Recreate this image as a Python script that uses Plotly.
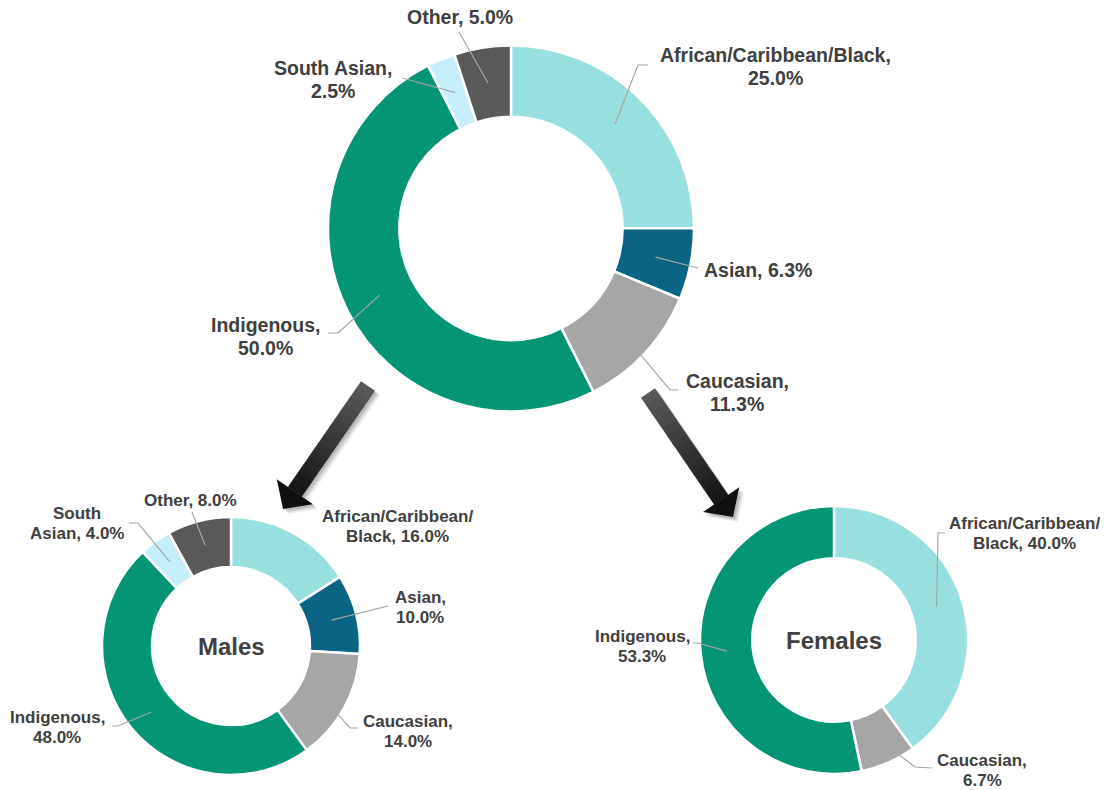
import math
import plotly.graph_objects as go

W, H = 1113, 790

# ---------------- data ----------------
groups = ["African/Caribbean/Black", "Asian", "Caucasian", "Indigenous", "South Asian", "Other"]
all_values = [25.0, 6.3, 11.3, 50.0, 2.5, 5.0]
male_values = [16.0, 10.0, 14.0, 48.0, 4.0, 8.0]
female_groups = ["African/Caribbean/Black", "Caucasian", "Indigenous"]
female_values = [40.0, 6.7, 53.3]
center_titles = ["", "Males", "Females"]

# ---------------- styles ----------------
colors = {
    "African/Caribbean/Black": "#97E0DF",
    "Asian": "#0A6584",
    "Caucasian": "#A6A6A6",
    "Indigenous": "#039574",
    "South Asian": "#C6EEFA",
    "Other": "#595959",
}
TEXT = "#404040"
LEADER = "#A6A6A6"
FONT = "Liberation Sans, Arial, sans-serif"

# pie geometry (pixel centre, radius, hole)
charts = [
    dict(name="all", labels=groups, values=all_values, cx=511, cy=228.5, r=183, hole=0.61,
         fsize=19.5, lh=22.5),
    dict(name="male", labels=groups, values=male_values, cx=231, cy=646, r=129, hole=0.612,
         fsize=17, lh=20),
    dict(name="female", labels=female_groups, values=female_values, cx=834, cy=640, r=134, hole=0.61,
         fsize=17, lh=20),
]

# label line breaking (layout only)
breaks = {
    "all": {"African/Caribbean/Black": [", "], "Caucasian": [", "], "Indigenous": [", "],
            "South Asian": [", "]},
    "male": {"African/Caribbean/Black": ["Caribbean/"], "Asian": [", "], "Caucasian": [", "],
             "Indigenous": [", "], "South Asian": ["South "]},
    "female": {"African/Caribbean/Black": ["Caribbean/"], "Caucasian": [", "], "Indigenous": [", "]},
}
# label text positions (centre of first line) and leader elbows
label_pos = {
    "all": {"African/Caribbean/Black": (775, 55), "Asian": (758, 270), "Caucasian": (737, 381),
            "Indigenous": (265, 325), "South Asian": (333, 68), "Other": (460, 17)},
    "male": {"African/Caribbean/Black": (397, 516), "Asian": (420, 597), "Caucasian": (408, 721),
             "Indigenous": (57, 717), "South Asian": (77, 513), "Other": (190, 500)},
    "female": {"African/Caribbean/Black": (1024, 523), "Caucasian": (982, 760),
               "Indigenous": (642, 636)},
}
leader_pts = {
    "all": {"African/Caribbean/Black": [(638, 65), (648, 65)], "Asian": [(698, 268)],
            "Caucasian": [(670, 390), (678, 390)], "Indigenous": [(338, 333), (328, 333)],
            "South Asian": [(402, 78)], "Other": [(459, 32)]},
    "male": {"Asian": [(388, 606)], "Caucasian": [(350, 728), (358, 728)],
             "Indigenous": [(118, 726), (112, 726)], "South Asian": [(138, 523), (129, 523)],
             "Other": [(192, 512)]},
    "female": {"African/Caribbean/Black": [(938, 533), (945, 533)],
               "Caucasian": [(915, 767), (932, 768)], "Indigenous": [(698, 643), (693, 643)]},
}

fig = go.Figure()
# invisible pixel-space axes covering the page
fig.add_trace(go.Scatter(x=[0, W], y=[0, H], mode="markers", marker=dict(opacity=0),
                         hoverinfo="skip", showlegend=False))

annotations = []
shapes = []

for ch, title in zip(charts, center_titles):
    cx, cy, r = ch["cx"], ch["cy"], ch["r"]
    fig.add_trace(go.Pie(
        labels=ch["labels"], values=ch["values"], hole=ch["hole"], sort=False,
        direction="clockwise", rotation=0, textinfo="none",
        marker=dict(colors=[colors[l] for l in ch["labels"]], line=dict(color="white", width=2.5)),
        domain=dict(x=[(cx - r) / W, (cx + r) / W], y=[1 - (cy + r) / H, 1 - (cy - r) / H]),
        showlegend=False, hovertemplate="%{label}: %{value:.1f}%<extra></extra>",
    ))
    if title:
        annotations.append(dict(x=cx, y=cy, xref="x", yref="y", text=title, showarrow=False,
                                font=dict(family=FONT, size=24, color=TEXT, weight="bold"),
                                xanchor="center", yanchor="middle"))
    total = sum(ch["values"])
    rm = r * (1 + ch["hole"]) / 2
    cum = 0.0
    for lab, val in zip(ch["labels"], ch["values"]):
        theta = 2 * math.pi * (cum + val / 2) / total
        cum += val
        sx, sy = cx + rm * math.sin(theta), cy - rm * math.cos(theta)
        pts = leader_pts[ch["name"]].get(lab)
        if pts:
            path = f"M {sx:.1f},{sy:.1f} " + " ".join(f"L {px},{py}" for px, py in pts)
            shapes.append(dict(type="path", path=path, xref="x", yref="y", layer="above",
                               line=dict(color=LEADER, width=1.2)))
        txt = f"{lab}, {val:.1f}%"
        for b in breaks[ch["name"]].get(lab, []):
            txt = txt.replace(b, b.rstrip() + "\n", 1)
        lx, ly = label_pos[ch["name"]][lab]
        for i, line in enumerate(txt.split("\n")):
            annotations.append(dict(x=lx, y=ly + i * ch["lh"], xref="x", yref="y", text=line,
                                    showarrow=False, xanchor="center", yanchor="middle",
                                    font=dict(family=FONT, size=ch["fsize"], color=TEXT,
                                              weight="bold")))


# ---------------- block arrows ----------------
def arrow_shapes(tail, tip, shaft_w=17, head_len=21, head_w=44, nseg=14):
    tx, ty = tail
    hx, hy = tip
    L = math.hypot(hx - tx, hy - ty)
    ux, uy = (hx - tx) / L, (hy - ty) / L
    px, py = -uy, ux
    out = []
    bx, by = hx - ux * head_len, hy - uy * head_len
    sl = L - head_len

    def poly(points, fill):
        p = "M " + " L ".join(f"{a:.1f},{b:.1f}" for a, b in points) + " Z"
        return dict(type="path", path=p, xref="x", yref="y", layer="above",
                    fillcolor=fill, line=dict(width=0))

    # soft shadow
    for off, alpha in [(5, 0.07), (3.5, 0.1), (2, 0.12)]:
        sx, sy = off, off
        pts = [(tx + px * shaft_w / 2 + sx, ty + py * shaft_w / 2 + sy),
               (bx + px * shaft_w / 2 + sx, by + py * shaft_w / 2 + sy),
               (bx + px * head_w / 2 + sx, by + py * head_w / 2 + sy),
               (hx + sx, hy + sy),
               (bx - px * head_w / 2 + sx, by - py * head_w / 2 + sy),
               (bx - px * shaft_w / 2 + sx, by - py * shaft_w / 2 + sy),
               (tx - px * shaft_w / 2 + sx, ty - py * shaft_w / 2 + sy)]
        out.append(poly(pts, f"rgba(0,0,0,{alpha})"))
    # graded shaft
    c0, c1 = (88, 88, 88), (24, 24, 24)
    for k in range(nseg):
        a0 = sl * k / nseg
        a1 = sl * (k + 1) / nseg + (0.8 if k < nseg - 1 else 0.3)
        t = k / (nseg - 1)
        col = "rgb({},{},{})".format(*[int(c0[j] + (c1[j] - c0[j]) * t) for j in range(3)])
        p0 = (tx + ux * a0, ty + uy * a0)
        p1 = (tx + ux * a1, ty + uy * a1)
        pts = [(p0[0] + px * shaft_w / 2, p0[1] + py * shaft_w / 2),
               (p1[0] + px * shaft_w / 2, p1[1] + py * shaft_w / 2),
               (p1[0] - px * shaft_w / 2, p1[1] - py * shaft_w / 2),
               (p0[0] - px * shaft_w / 2, p0[1] - py * shaft_w / 2)]
        out.append(poly(pts, col))
    # head
    out.append(poly([(bx + px * head_w / 2, by + py * head_w / 2), (hx, hy),
                     (bx - px * head_w / 2, by - py * head_w / 2)], "#101010"))
    return out


shapes += arrow_shapes((368, 386), (283, 509))
shapes += arrow_shapes((648, 393), (733, 517))

fig.update_layout(
    width=W, height=H, margin=dict(l=0, r=0, t=0, b=0),
    paper_bgcolor="white", plot_bgcolor="white",
    xaxis=dict(range=[0, W], visible=False, fixedrange=True),
    yaxis=dict(range=[H, 0], visible=False, fixedrange=True),
    shapes=shapes, annotations=annotations, showlegend=False,
)

fig.write_html("out.html", config={"displayModeBar": False},
               post_script="document.body.style.margin='0';document.body.style.overflow='hidden';")
